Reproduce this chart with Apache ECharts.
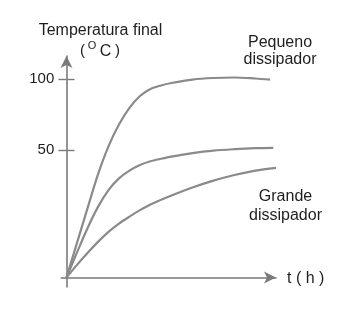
<!DOCTYPE html>
<html>
<head>
<meta charset="utf-8">
<script src="https://cdn.jsdelivr.net/npm/echarts@6/dist/echarts.min.js"></script>
<style>html,body{margin:0;padding:0;background:#fff}#c{width:356px;height:312px}</style>
</head>
<body>
<div id="c"></div>
<script>
// Time (h) and final temperature (°C)
const tPequeno = [0, 0.5, 1, 1.5, 2, 2.5, 3, 3.5, 4, 4.5, 5, 6, 7, 8, 9, 9.7];
const vPequeno = [14.4, 20.2, 28.3, 39.4, 51.8, 64.1, 75.4, 84.7, 90.7, 93.9, 96.2, 99.5, 101.0, 101.5, 100.5, 99.5];
const tMedio = [0, 0.5, 1, 1.5, 2, 2.5, 3, 3.5, 4, 4.5, 5, 6, 7, 8, 9, 9.85];
const vMedio = [14.4, 18.4, 23.3, 28.7, 33.8, 37.9, 40.9, 43.2, 44.8, 45.9, 46.9, 48.5, 49.7, 50.4, 50.9, 51.1];
const tGrande = [0, 0.5, 1, 1.5, 2, 2.5, 3, 3.5, 4, 5, 6, 7, 8, 9, 9.98];
const vGrande = [14.4, 16.3, 18.3, 20.4, 22.5, 24.4, 26.1, 27.8, 29.4, 32.1, 34.7, 37.1, 39.2, 40.9, 42.0];
const yTicks = [50, 100];
const yTitle1 = 'Temperatura final';
const labelPequeno = ['Pequeno', 'dissipador'];
const labelGrande = ['Grande', 'dissipador'];
const xTitle = 't ( h )';

const pairs = (t, v) => t.map((x, i) => [x, v[i]]);
const FONT = '"Liberation Sans", Arial, Helvetica, sans-serif';
const AX = '#7a7a7a';
const LINE = '#8a8a8a';
const TXT = '#1e1e1e';

const chart = echarts.init(document.getElementById('c'), null, {renderer: 'canvas'});
const txt = (text, x, y, size, align) => ({
  type: 'text', x: x, y: y, silent: true,
  style: {text: text, fill: TXT, font: size + 'px ' + FONT, align: align || 'center', verticalAlign: 'middle'}
});
const serie = (t, v) => ({
  type: 'line', data: pairs(t, v), showSymbol: false, smooth: 0.3,
  lineStyle: {color: LINE, width: 2.2}, xAxisIndex: 0, yAxisIndex: 0
});

chart.setOption({
  animation: false,
  backgroundColor: '#fff',
  grid: {left: 61.25, right: 80, top: 56, bottom: 25},
  xAxis: {
    type: 'value', min: -0.25, max: 9.98, offset: -9.5,
    axisLine: {show: true, onZero: false, symbol: ['none', 'arrow'], symbolSize: [9, 12], lineStyle: {color: AX, width: 1.6}},
    axisTick: {show: false}, axisLabel: {show: false}, splitLine: {show: false}
  },
  yAxis: [{
    type: 'log', min: 13.13, max: 125.2, position: 'left',
    axisLine: {show: true, onZero: true, symbol: ['none', 'arrow'], symbolSize: [9, 12], lineStyle: {color: AX, width: 1.6}},
    axisTick: {show: true, length: 8, customValues: yTicks, lineStyle: {color: AX, width: 1.4}},
    axisLabel: {show: true, customValues: yTicks, margin: 7, color: TXT, fontSize: 15, fontFamily: FONT, formatter: v => String(v)},
    splitLine: {show: false}
  }, {
    type: 'log', min: 13.13, max: 125.2, position: 'left', offset: -5.25,
    axisLine: {show: false, onZero: false},
    axisTick: {show: true, inside: true, length: 8, customValues: yTicks, lineStyle: {color: AX, width: 1.4}},
    axisLabel: {show: false}, splitLine: {show: false}
  }],
  series: [serie(tPequeno, vPequeno), serie(tMedio, vMedio), serie(tGrande, vGrande)],
  graphic: [
    txt(yTitle1, 100.5, 31, 16),
    txt('(', 82.5, 50.5, 15),
    txt('O', 92, 45.5, 11),
    txt('C', 105.5, 51.5, 16),
    txt(')', 117.5, 50.5, 15),
    txt(labelPequeno[0], 280, 43, 16),
    txt(labelPequeno[1], 280, 59.5, 16),
    txt(labelGrande[0], 285.5, 197, 16),
    txt(labelGrande[1], 285.5, 215.5, 16),
    txt(xTitle, 287, 279, 16, 'left')
  ]
});
</script>
</body>
</html>
